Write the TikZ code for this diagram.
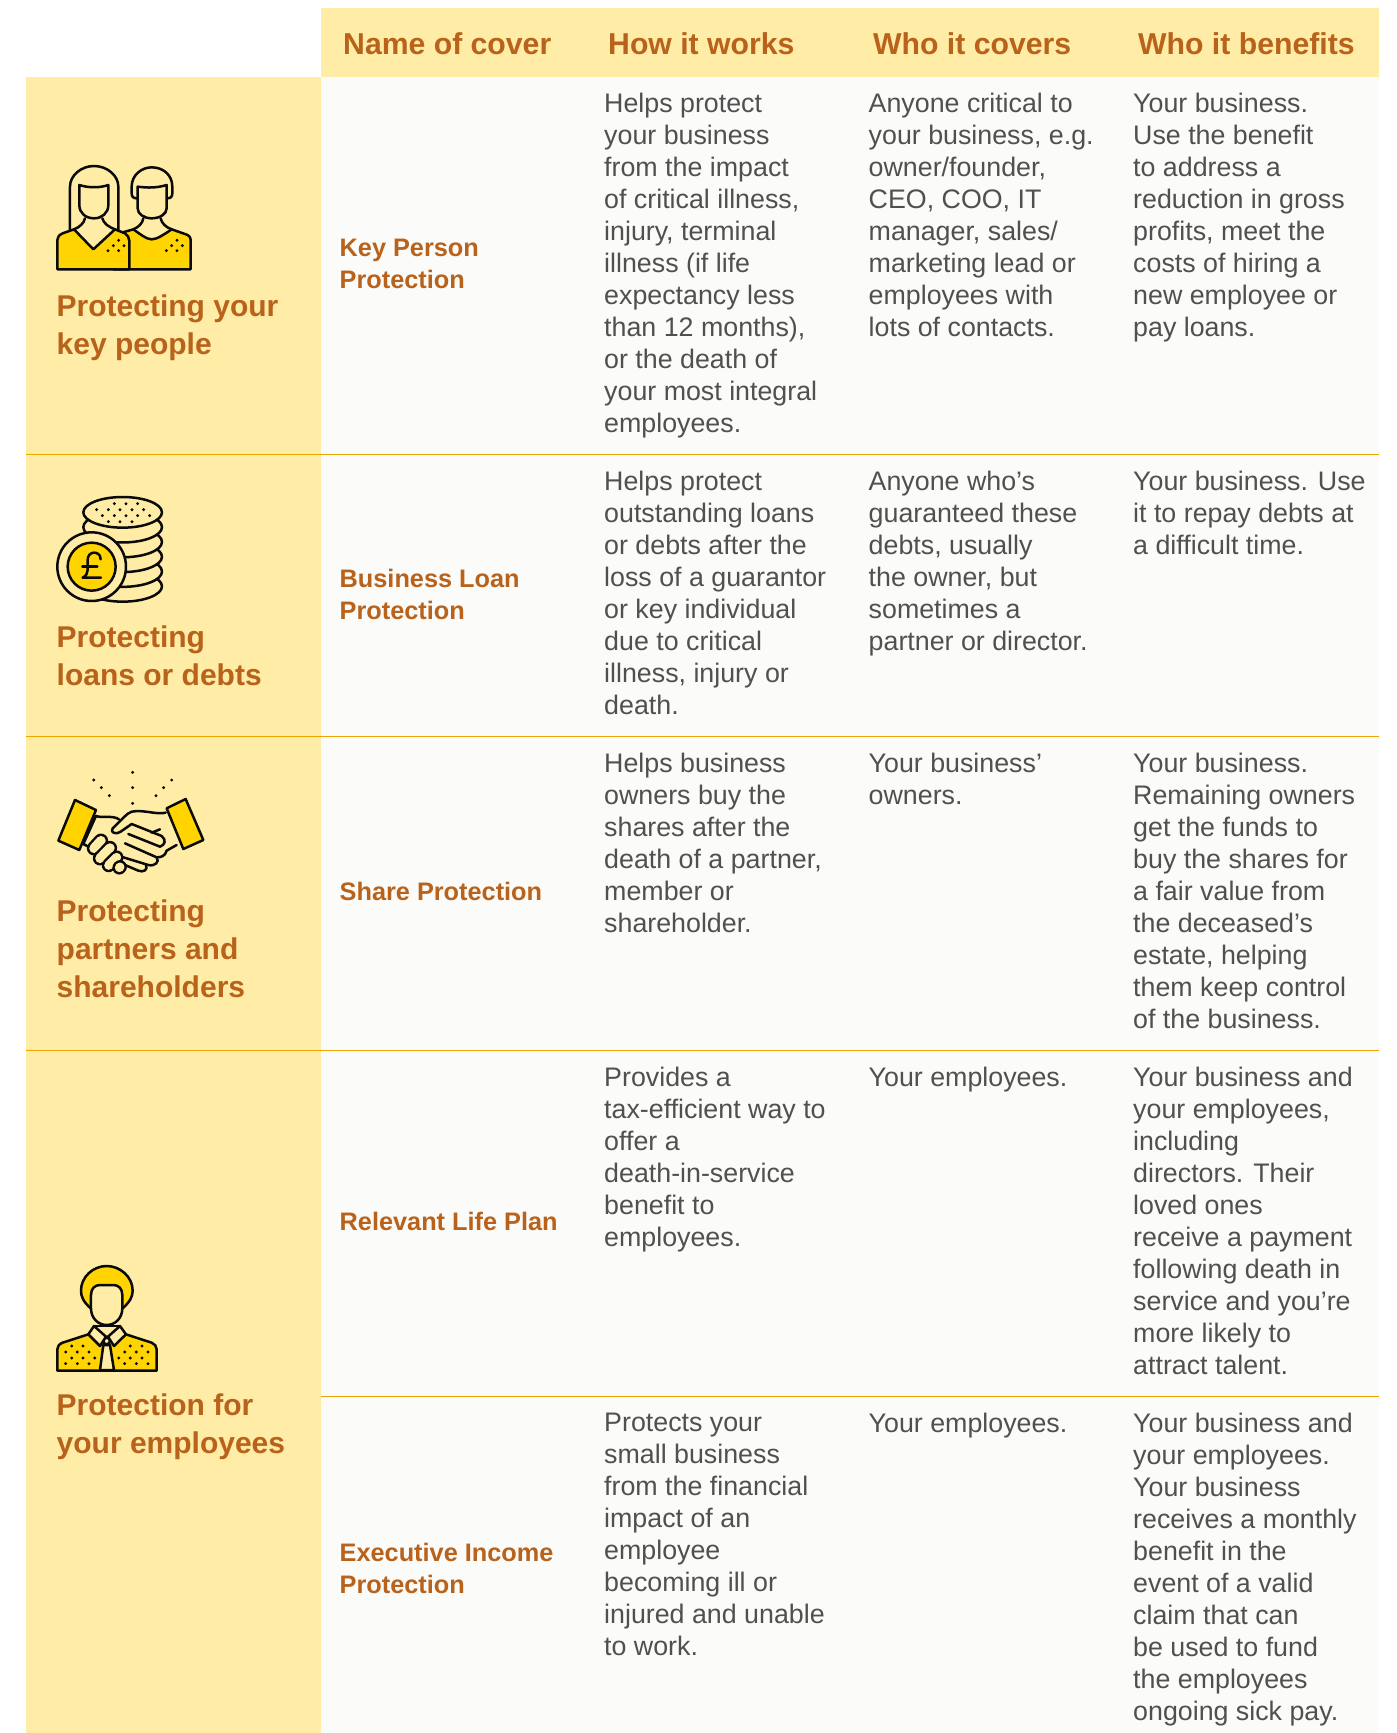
\documentclass[tikz,border=0pt]{standalone}
\usepackage{fontspec}
\setmainfont{Liberation Sans}
\definecolor{bandbg}{HTML}{FFECA6}
\definecolor{bodybg}{HTML}{FBFBF9}
\definecolor{rust}{HTML}{B8621B}
\definecolor{bodytxt}{HTML}{505050}
\definecolor{rulec}{HTML}{EDA600}
\definecolor{gold}{HTML}{FFD400}
\definecolor{ink}{HTML}{0A0A0A}
\tikzset{
 bodycell/.style={anchor=north west,inner sep=0pt,align=left,text=bodytxt,font=\fontsize{26.8}{32}\selectfont},
 covercell/.style={anchor=west,inner sep=0pt,align=left,text=rust,font=\fontsize{25.3}{32}\selectfont\bfseries},
 headcell/.style={anchor=base west,inner sep=0pt,text=rust,font=\fontsize{30.2}{36}\selectfont\bfseries},
 sidecell/.style={anchor=north west,inner sep=0pt,align=left,text=rust,font=\fontsize{30}{38}\selectfont\bfseries},
 ico/.style={line width=2.5pt,draw=ink,line join=round,line cap=round},
 rowrule/.style={draw=rulec,line width=1pt},
}
\newcommand{\inkdots}[1]{\foreach \p in {#1}{\fill[ink] \p circle (4.8);}}
\begin{document}
\begin{tikzpicture}[x=1pt,y=-1pt]
\useasboundingbox (0,0) rectangle (1397,1733);
\fill[white] (0,0) rectangle (1397,1733);
\fill[bodybg] (320.5,76) rectangle (1379,1733);
\fill[bandbg] (320.5,8) rectangle (1379,76.5);
\fill[bandbg] (25.5,76.5) rectangle (320.5,1733);
\coordinate (r1a) at (25.5,454.5);\coordinate (r1b) at (1379,454.5);
\coordinate (r2a) at (25.5,736);\coordinate (r2b) at (1379,736);
\coordinate (r3a) at (25.5,1050);\coordinate (r3b) at (1379,1050);
\coordinate (r4a) at (320.5,1396);\coordinate (r4b) at (1379,1396);
\draw[rowrule] (r1a)--(r1b);\draw[rowrule] (r2a)--(r2b);\draw[rowrule] (r3a)--(r3b);\draw[rowrule] (r4a)--(r4b);
% header
\node[headcell] (h1) at (343,54) {Name of cover};
\node[headcell] (h2) at (608,54) {How it works};
\node[headcell] (h3) at (873,54) {Who it covers};
\node[headcell] (h4) at (1138,54) {Who it benefits};
% side
\node[sidecell] (s1) at (56.5,295) {Protecting your\\key people};
\node[sidecell] (s2) at (56.5,625.5) {Protecting\\loans or debts};
\node[sidecell] (s3) at (56.5,900) {Protecting\\partners and\\shareholders};
\node[sidecell] (s4) at (56.5,1394) {Protection for\\your employees};
% cover
\node[covercell] (c1) at (339.5,264) {Key Person\\Protection};
\node[covercell] (c2) at (339.5,594) {Business Loan\\Protection};
\node[covercell] (c3) at (339.5,891.5) {Share Protection};
\node[covercell] (c4) at (339.5,1221.5) {Relevant Life Plan};
\node[covercell] (c5) at (339.5,1568) {Executive Income\\Protection};
% body
\node[bodycell] (a1) at (604,93) {Helps protect\\your business\\from the impact\\of critical illness,\\injury, terminal\\illness (if life\\expectancy less\\than 12 months),\\or the death of\\your most integral\\employees.};
\node[bodycell] (b1) at (868.5,93) {Anyone critical to\\your business, e.g.\\owner/founder,\\CEO, COO, IT\\manager, sales/\\marketing lead or\\employees with\\lots of contacts.};
\node[bodycell] (d1) at (1133,93) {Your business.\\Use the benefit\\to address a\\reduction in gross\\profits, meet the\\costs of hiring a\\new employee or\\pay loans.};
\node[bodycell] (a2) at (604,471) {Helps protect\\outstanding loans\\or debts after the\\loss of a guarantor\\or key individual\\due to critical\\illness, injury or\\death.};
\node[bodycell] (b2) at (868.5,471) {Anyone who’s\\guaranteed these\\debts, usually\\the owner, but\\sometimes a\\partner or director.};
\node[bodycell] (d2) at (1133,471) {Your business. Use\\it to repay debts at\\a difficult time.};
\node[bodycell] (a3) at (604,753) {Helps business\\owners buy the\\shares after the\\death of a partner,\\member or\\shareholder.};
\node[bodycell] (b3) at (868.5,753) {Your business’\\owners.};
\node[bodycell] (d3) at (1133,753) {Your business.\\Remaining owners\\get the funds to\\buy the shares for\\a fair value from\\the deceased’s\\estate, helping\\them keep control\\of the business.};
\node[bodycell] (a4) at (604,1067) {Provides a\\tax-efficient way to\\offer a\\death-in-service\\benefit to\\employees.};
\node[bodycell] (b4) at (868.5,1067) {Your employees.};
\node[bodycell] (d4) at (1133,1067) {Your business and\\your employees,\\including\\directors. Their\\loved ones\\receive a payment\\following death in\\service and you’re\\more likely to\\attract talent.};
\node[bodycell] (a5) at (604,1413) {Protects your\\small business\\from the financial\\impact of an\\employee\\becoming ill or\\injured and unable\\to work.};
\node[bodycell] (b5) at (868.5,1413) {Your employees.};
\node[bodycell] (d5) at (1133,1413) {Your business and\\your employees.\\Your business\\receives a monthly\\benefit in the\\event of a valid\\claim that can\\be used to fund\\the employees\\ongoing sick pay.};
% icon 1
\begin{scope}[shift={(20,130)},x=0.3333pt,y=-0.3333pt]
\draw[ico,fill=gold] (280,418)--(512,418)--(512,330) .. controls (512,320) and (505,315) .. (495,312)--(455,298) .. controls (430,315) and (410,328) .. (395,328) .. controls (380,328) and (360,312) .. (340,298)--(305,308);
\draw[ico] (350,205) .. controls (340,205) and (335,200) .. (335,190)--(335,170) .. controls (335,135) and (365,112) .. (395,112) .. controls (430,112) and (457,135) .. (457,170)--(457,190) .. controls (457,200) and (452,205) .. (442,205);
\draw[ico] (353,170) .. controls (385,174) and (410,174) .. (440,165)--(440,235) .. controls (440,252) and (420,265) .. (395,265) .. controls (372,265) and (353,252) .. (353,235)--cycle;
\draw[ico] (370,265) .. controls (368,280) and (355,292) .. (340,298);
\draw[ico] (422,265) .. controls (425,280) and (438,292) .. (455,298);
\draw[ico] (150,300)--(150,170) .. controls (150,135) and (185,108) .. (222,108) .. controls (260,108) and (295,135) .. (295,170)--(295,300);
\draw[ico,fill=gold] (112,418)--(112,330) .. controls (112,320) and (118,315) .. (128,310)--(162,298)--(220,358)--(285,298)--(315,310) .. controls (322,315) and (328,322) .. (328,332)--(328,418)--cycle;
\draw[ico] (178,165) .. controls (205,174) and (240,174) .. (265,165)--(265,225) .. controls (265,250) and (245,265) .. (222,265) .. controls (198,265) and (178,250) .. (178,225)--cycle;
\draw[ico] (195,265) .. controls (192,280) and (178,292) .. (162,298);
\draw[ico] (247,265) .. controls (250,280) and (268,292) .. (285,298);
\inkdots{(296,331),(280,347),(312,347),(264,362),(296,362),(471,331),(455,347),(487,347),(439,362),(471,362)}
\end{scope}
% icon 2
\begin{scope}[shift={(20,470)},x=0.3333pt,y=-0.3333pt]
\foreach \k in {5,4,3,2,1}{\draw[ico,fill=bandbg] (308,127+\k*44.4) ellipse [x radius=118,y radius=46];}
\draw[ico,fill=bandbg] (308,127) ellipse [x radius=118,y radius=46];
\inkdots{(283,101),(318,101),(353,101),(230,119),(265,119),(300,119),(336,119),(371,119),(247,137),(283,137),(318,137),(353,137),(389,137),(265,155),(300,155),(336,155)}
\draw[ico,fill=bandbg] (215,290) circle [radius=103];
\draw[ico,fill=gold] (215,290) circle [radius=72];
\draw[ico] (242,268) .. controls (242,252) and (230,248) .. (222,248) .. controls (210,248) and (203,258) .. (203,270)--(203,300) .. controls (203,310) and (198,318) .. (188,323)--(243,323);
\draw[ico] (187,289)--(232,289);
\end{scope}
% icon 3
\begin{scope}[shift={(20,750)},x=0.3333pt,y=-0.3333pt]
\inkdots{(221,90),(244,113),(268,137),(338,67),(338,113),(338,160),(455,90),(431,113),(408,137)}
\draw[ico] (228,198) .. controls (245,205) and (280,195) .. (297,208);
\draw[ico] (437,188) .. controls (410,195) and (370,178) .. (335,185) .. controls (320,190) and (310,205) .. (278,235) .. controls (268,248) and (290,255) .. (302,245)--(335,222)--(425,258) .. controls (440,270) and (435,285) .. (420,290)--(325,252);
\draw[ico] (470,285)--(440,302) .. controls (435,318) and (425,322) .. (410,322)--(315,280);
\draw[ico] (410,322) .. controls (420,335) and (405,350) .. (385,345)--(310,322);
\draw[ico] (378,345) .. controls (385,360) and (370,368) .. (355,362)--(315,345);
\draw[ico] (420,238)--(395,248);
\draw[ico] (228,198)--(190,282)--(215,295);
\foreach \ax/\ay/\bx/\by/\w in {243/272/222/295/9.5,270/294/240/325/9.5,290/322/266/346/9,300/351/298/353/9}{
  \draw[ink,line width=\w pt+4.8pt,line cap=round] (\ax,\ay)--(\bx,\by);
  \draw[bandbg,line width=\w pt,line cap=round] (\ax,\ay)--(\bx,\by);
}
\draw[ico,fill=gold] (165,150)--(228,180)--(178,300)--(115,272)--cycle;
\draw[ico,fill=gold] (497,147)--(550,270)--(490,297)--(440,175)--cycle;
\end{scope}
% icon 4
\begin{scope}[shift={(20,1240)},x=0.3333pt,y=-0.3333pt]
\draw[ico,fill=gold] (212,205) .. controls (190,185) and (183,170) .. (183,152) .. controls (183,110) and (220,78) .. (260,78) .. controls (300,78) and (338,110) .. (338,152) .. controls (338,170) and (330,185) .. (308,205)--cycle;
\draw[ico,fill=bandbg] (213,165) .. controls (213,145) and (225,135) .. (240,135)--(280,135) .. controls (295,135) and (307,145) .. (307,165)--(307,205) .. controls (307,235) and (285,255) .. (260,255) .. controls (235,255) and (213,235) .. (213,205)--cycle;
\draw[ico,fill=gold] (112,392)--(112,328) .. controls (112,318) and (118,312) .. (128,308)--(205,283)--(318,283)--(395,308) .. controls (404,312) and (410,318) .. (410,328)--(410,392)--cycle;
\fill[bandbg] (222,258)--(300,258)--(275,300)--(245,300)--cycle;
\draw[ico,fill=bandbg] (250,315)--(240,390)--(282,390)--(270,315)--cycle;
\draw[ico,fill=bandbg] (260,303) circle [radius=10];
\draw[ico,fill=bandbg] (222,258)--(205,283)--(240,318)--(258,290)--cycle;
\draw[ico,fill=bandbg] (300,258)--(318,283)--(282,318)--(264,290)--cycle;
\draw[ico] (222,258)--(300,258);
\inkdots{(155,318),(189,318),(137,336),(172,336),(207,336),(155,354),(189,354),(224,354),(137,371),(172,371),(207,371),(331,318),(366,318),(314,336),(349,336),(384,336),(296,354),(331,354),(366,354),(314,371),(349,371),(384,371)}
\end{scope}
\end{tikzpicture}
\end{document}
